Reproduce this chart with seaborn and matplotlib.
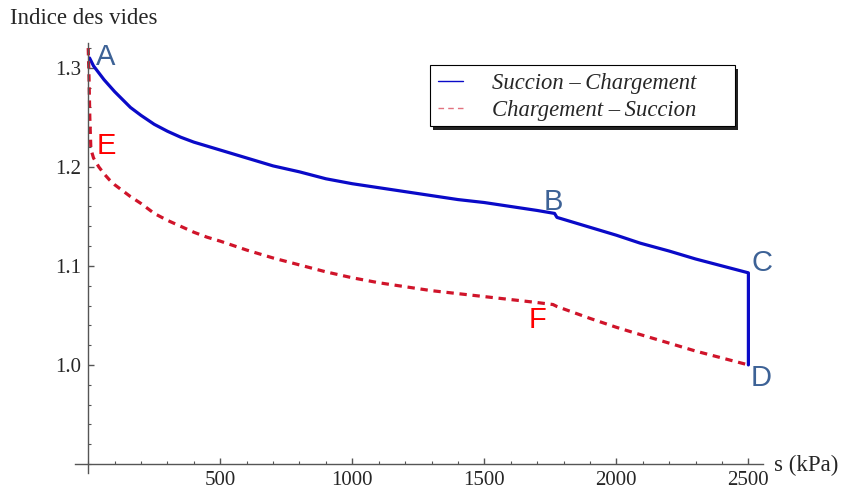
import numpy as np
import pandas as pd
import seaborn as sns
import matplotlib.pyplot as plt
from matplotlib.lines import Line2D
from matplotlib.patches import Rectangle
from matplotlib.ticker import MultipleLocator

# Courbe Succion - Chargement (A -> B -> C -> D)
s_succ_charg = [5, 20, 40, 60, 80, 100, 130, 160, 200, 250, 300, 350, 400, 450, 500, 600, 700, 800, 900,
                1000, 1100, 1200, 1300, 1400, 1500, 1600, 1700, 1766, 1775, 1900, 2000, 2090, 2200, 2300,
                2400, 2500, 2500]
e_succ_charg = [1.310, 1.302, 1.295, 1.288, 1.282, 1.276, 1.268, 1.260, 1.252, 1.243, 1.236, 1.230, 1.225,
                1.221, 1.217, 1.209, 1.201, 1.195, 1.188, 1.183, 1.179, 1.175, 1.171, 1.167, 1.164, 1.160,
                1.156, 1.153, 1.149, 1.139, 1.131, 1.123, 1.115, 1.107, 1.100, 1.093, 1.000]

# Courbe Chargement - Succion (E -> F -> D)
s_charg_succ = [0, 3, 6, 10, 20, 40, 60, 80, 100, 130, 160, 200, 250, 300, 350, 400, 450, 500, 600, 700,
                800, 900, 1000, 1100, 1200, 1300, 1400, 1500, 1600, 1700, 1760, 1775, 1900, 2000, 2061,
                2200, 2300, 2400, 2500]
e_charg_succ = [1.320, 1.290, 1.250, 1.218, 1.209, 1.200, 1.193, 1.187, 1.182, 1.176, 1.170, 1.163, 1.153,
                1.146, 1.140, 1.134, 1.129, 1.125, 1.116, 1.108, 1.101, 1.094, 1.088, 1.083, 1.079, 1.075,
                1.072, 1.069, 1.066, 1.063, 1.061, 1.059, 1.047, 1.038, 1.033, 1.022, 1.014, 1.007, 1.000]

noms_series = ['Succion \u2013\u2009Chargement', 'Chargement \u2013\u2009Succion']

# Points remarquables
lettres = ['A', 'B', 'C', 'D', 'E', 'F']
lettres_s = [30, 1725, 2510, 2510, 30, 1668]
lettres_e = [1.311, 1.165, 1.1025, 0.987, 1.221, 1.045]
couleurs_lettres = ['#3d6296', '#3d6296', '#3d6296', '#3d6296', '#ff0000', '#ff0000']

bleu = '#0a0ac8'
rouge = '#d0142a'

sns.set_style('white')
plt.rcParams['font.family'] = ['Liberation Serif', 'DejaVu Serif']
plt.rcParams['xtick.direction'] = 'in'
plt.rcParams['ytick.direction'] = 'in'
plt.rcParams['xtick.bottom'] = True
plt.rcParams['ytick.left'] = True

fig = plt.figure(figsize=(8.43, 4.90), dpi=100)
ax = fig.add_axes([0.089, 0.035, 0.816, 0.877])

df1 = pd.DataFrame({'s': s_succ_charg, 'e': e_succ_charg})
df2 = pd.DataFrame({'s': s_charg_succ, 'e': e_charg_succ})

sns.lineplot(data=df1, x='s', y='e', sort=False, estimator=None, color=bleu, linewidth=2.3, ax=ax)
sns.lineplot(data=df2, x='s', y='e', sort=False, estimator=None, color=rouge, linewidth=2.3, ax=ax)
ax.lines[1].set_dashes([2.3, 1.8])

ax.set_xlim(-50, 2555)
ax.set_ylim(0.891, 1.325)
ax.set_xlabel('')
ax.set_ylabel('')

# axes a la Mathematica
for cote in ['top', 'right']:
    ax.spines[cote].set_visible(False)
ax.spines['left'].set_position(('data', 0))
ax.spines['bottom'].set_position(('data', 0.9))
for cote in ['left', 'bottom']:
    ax.spines[cote].set_color('#555555')
    ax.spines[cote].set_linewidth(1.0)

ax.set_xticks([500, 1000, 1500, 2000, 2500])
ax.set_yticks([1.0, 1.1, 1.2, 1.3])
ax.set_yticklabels(['1.0', '1.1', '1.2', '1.3'])
ax.xaxis.set_minor_locator(MultipleLocator(100))
ax.yaxis.set_minor_locator(MultipleLocator(0.02))
ax.tick_params(which='major', direction='in', length=4.5, width=1, color='#555555', labelsize=15, pad=5)
ax.tick_params(which='minor', direction='in', length=2.5, width=0.8, color='#555555')

fig.text(0.012, 0.962, 'Indice des vides', fontsize=16.5, va='center', ha='left')
fig.text(0.918, 0.050, 's (kPa)', fontsize=16.5, va='center', ha='left')

for l, xs, ys, c in zip(lettres, lettres_s, lettres_e, couleurs_lettres):
    ax.text(xs, ys, l, color=c, fontsize=21, family='Liberation Sans', ha='left', va='center')

# cadre de la legende avec ombre
ombre = Rectangle((0.521, 0.798), 0.443, 0.142, transform=ax.transAxes, facecolor='#222222',
                  edgecolor='none', zorder=5, clip_on=False)
cadre = Rectangle((0.516, 0.807), 0.443, 0.142, transform=ax.transAxes, facecolor='white',
                  edgecolor='black', linewidth=0.8, zorder=6, clip_on=False)
ax.add_patch(ombre)
ax.add_patch(cadre)

poignees = [Line2D([0], [0], color=bleu, lw=1.0),
            Line2D([0], [0], color=rouge, lw=1.0, ls=(0, (4, 3)), alpha=0.6)]
leg = ax.legend(poignees, noms_series, loc='upper left', bbox_to_anchor=(0.5276, 0.9305),
                frameon=False, prop={'family': 'Liberation Serif', 'style': 'italic', 'size': 16.3},
                handlelength=1.1, handletextpad=1.28, borderpad=0, labelspacing=0.25,
                borderaxespad=0)
leg.set_zorder(7)

plt.savefig('out.png', dpi=100)
